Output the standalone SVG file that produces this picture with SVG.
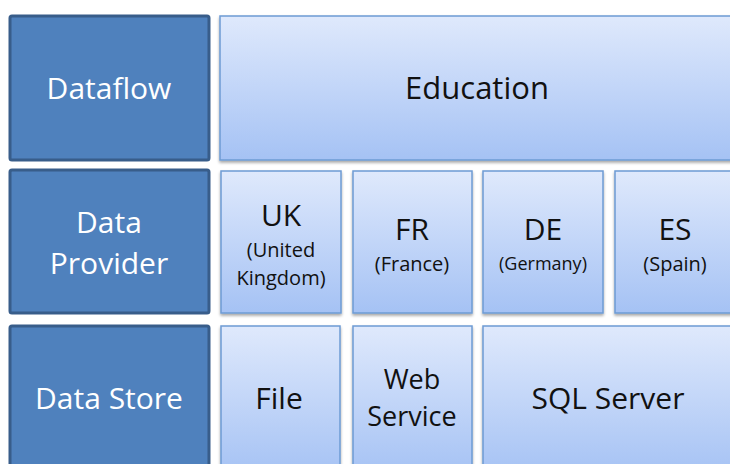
<svg xmlns="http://www.w3.org/2000/svg" width="730" height="464" viewBox="0 0 730 464">
<defs>
<linearGradient id="lg" x1="0" y1="0" x2="0" y2="1">
<stop offset="0" stop-color="#dfe9fc"/>
<stop offset="1" stop-color="#a5c2f4"/>
</linearGradient>
<filter id="sh" x="-10%" y="-10%" width="130%" height="130%">
<feGaussianBlur in="SourceAlpha" stdDeviation="1.5"/>
<feOffset dx="0" dy="2" result="b"/>
<feComponentTransfer><feFuncA type="linear" slope="0.35"/></feComponentTransfer>
<feMerge><feMergeNode/><feMergeNode in="SourceGraphic"/></feMerge>
</filter>
</defs>
<style>
.hd{fill:#4f81bd;stroke:#385d8a;stroke-width:3}
.bx{fill:url(#lg);stroke:#6d9bd4;stroke-width:1.5;filter:url(#sh)}
text{font-family:"Open Sans","Liberation Sans",sans-serif;text-anchor:middle}
.w{fill:#ffffff;font-size:30px}
.k{fill:#111111}
.big{font-size:30px}
.sm{font-size:20px}
</style>
<rect width="730" height="464" fill="#ffffff"/>
<g id="dataflow"><rect class="hd" x="10" y="16" width="199" height="144" rx="2"/><text class="w" x="109" y="99">Dataflow</text></g>
<g id="data-provider"><rect class="hd" x="10" y="170" width="199" height="143" rx="2"/><text class="w" x="109" y="233">Data</text><text class="w" x="109" y="274">Provider</text></g>
<g id="data-store"><rect class="hd" x="10" y="326" width="199" height="150" rx="2"/><text class="w" x="109" y="409">Data Store</text></g>
<g id="education"><rect class="bx" x="220" y="16" width="530" height="144"/><text class="k" x="477" y="99" style="font-size:31px">Education</text></g>
<g id="uk"><rect class="bx" x="221" y="171" width="120" height="142"/><text class="k big" x="281" y="226">UK</text><text class="k sm" x="281" y="257">(United</text><text class="k sm" x="281" y="285">Kingdom)</text></g>
<g id="fr"><rect class="bx" x="353" y="171" width="119" height="142"/><text class="k big" x="412" y="240">FR</text><text class="k sm" x="412" y="271">(France)</text></g>
<g id="de"><rect class="bx" x="483" y="171" width="120" height="142"/><text class="k big" x="543" y="240">DE</text><text class="k" x="543" y="270" style="font-size:18px">(Germany)</text></g>
<g id="es"><rect class="bx" x="615" y="171" width="140" height="142"/><text class="k big" x="675" y="240">ES</text><text class="k sm" x="675" y="271">(Spain)</text></g>
<g id="file"><rect class="bx" x="221" y="326" width="119" height="150"/><text class="k big" x="279" y="409">File</text></g>
<g id="web-service"><rect class="bx" x="353" y="326" width="119" height="150"/><text class="k" x="412" y="389" style="font-size:27px">Web</text><text class="k" x="412" y="426" style="font-size:27px">Service</text></g>
<g id="sql-server"><rect class="bx" x="483" y="326" width="270" height="150"/><text class="k big" x="608" y="409">SQL Server</text></g>
<g id="connectors"></g>
</svg>
